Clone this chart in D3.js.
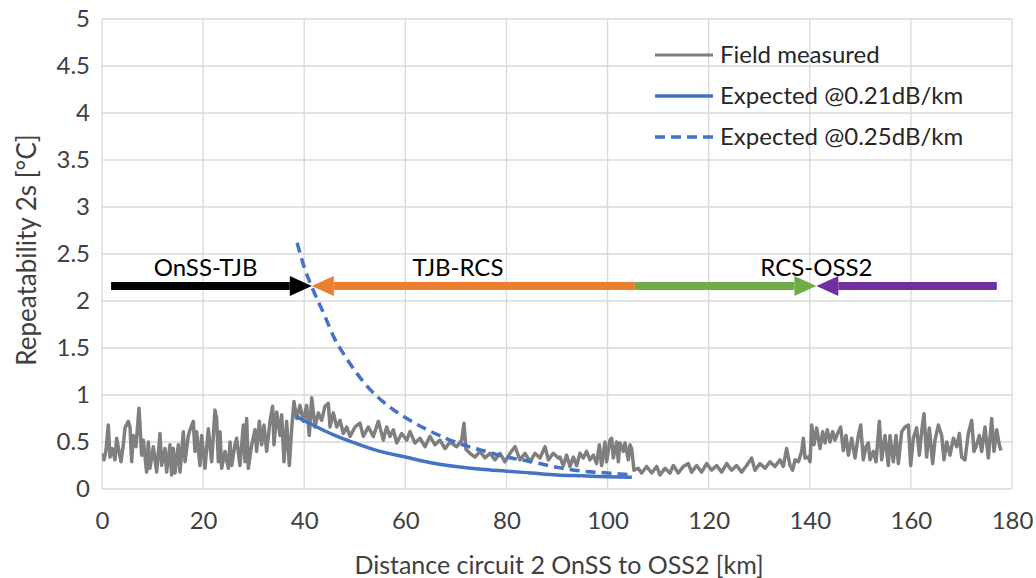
<!DOCTYPE html>
<html>
<head>
<meta charset="utf-8">
<script src="https://cdn.jsdelivr.net/npm/d3@7"></script>
<style>
  body { margin: 0; background: #fff; }
  text { font-family: Lato, "Open Sans", sans-serif; }
</style>
</head>
<body>
<svg id="chart" width="1036" height="578"></svg>
<script>
// axis ticks
const xTicks = [0, 20, 40, 60, 80, 100, 120, 140, 160, 180];
const yTicks = [0, 0.5, 1, 1.5, 2, 2.5, 3, 3.5, 4, 4.5, 5];

// field measured repeatability, [km, degC]
const field = [
  [0.3,0.38],[0.4,0.31],[0.79,0.41],[1.25,0.68],[1.58,0.34],[2.04,0.43],[2.57,0.31],[2.9,0.54],
  [3.36,0.40],[3.76,0.29],[4.22,0.47],[4.55,0.65],[5.2,0.72],[5.54,0.66],[5.87,0.29],[6.2,0.57],
  [6.72,0.45],[7.32,0.86],[7.84,0.36],[8.17,0.52],[8.83,0.18],[9.16,0.50],[9.49,0.22],[10.15,0.45],
  [10.81,0.18],[11.47,0.59],[11.8,0.25],[12.46,0.43],[12.79,0.18],[13.45,0.47],[13.78,0.15],[14.11,0.43],
  [14.44,0.17],[15.1,0.47],[15.43,0.18],[16.09,0.61],[16.42,0.29],[17.08,0.57],[17.41,0.63],[18.06,0.72],
  [18.39,0.40],[18.72,0.61],[19.38,0.25],[19.71,0.57],[20.37,0.22],[21.03,0.64],[21.69,0.29],[22.35,0.84],
  [22.68,0.75],[23.01,0.29],[23.34,0.61],[23.67,0.22],[24.33,0.40],[24.99,0.22],[25.32,0.50],[25.65,0.25],
  [26.3,0.47],[26.63,0.54],[27.29,0.25],[27.95,0.68],[28.28,0.29],[28.61,0.75],[28.94,0.22],[29.6,0.47],
  [30.26,0.63],[30.59,0.40],[31.12,0.72],[31.58,0.47],[32.04,0.68],[32.57,0.40],[33.23,0.72],[33.75,0.88],
  [34.02,0.47],[34.55,0.82],[35.21,0.57],[35.54,0.79],[36.0,0.29],[36.52,0.72],[37.05,0.25],[37.51,0.64],
  [37.97,0.93],[38.5,0.75],[39.16,0.89],[39.82,0.72],[40.48,0.89],[41.0,0.57],[41.48,0.97],[42.13,0.66],
  [42.79,0.81],[43.45,0.73],[44.11,0.88],[44.77,0.91],[45.1,0.66],[45.76,0.81],[46.42,0.66],[47.08,0.73],
  [47.74,0.59],[48.4,0.66],[49.06,0.56],[50.05,0.66],[51.03,0.70],[51.69,0.56],[52.68,0.66],[53.67,0.56],
  [54.66,0.72],[55.65,0.52],[56.31,0.66],[56.97,0.56],[57.63,0.63],[58.29,0.49],[59.28,0.59],[60.27,0.52],
  [60.92,0.61],[61.91,0.49],[62.9,0.54],[63.89,0.45],[64.88,0.56],[65.87,0.47],[66.86,0.52],[67.85,0.43],
  [68.84,0.50],[70.16,0.45],[71.14,0.52],[71.6,0.70],[72.0,0.42],[72.79,0.38],[73.78,0.34],[74.77,0.40],
  [75.76,0.33],[76.75,0.38],[77.74,0.31],[78.72,0.38],[79.71,0.29],[80.7,0.38],[81.69,0.45],[82.68,0.31],
  [83.67,0.38],[84.66,0.29],[85.65,0.38],[86.64,0.33],[87.63,0.45],[88.29,0.31],[89.27,0.38],[90.26,0.33],
  [90.59,0.34],[91.25,0.25],[91.91,0.36],[92.57,0.24],[93.23,0.34],[93.89,0.25],[94.55,0.38],[95.2,0.33],
  [95.86,0.40],[96.52,0.31],[97.18,0.36],[97.84,0.27],[98.37,0.47],[98.83,0.25],[99.49,0.50],[99.82,0.29],
  [100.48,0.52],[100.81,0.54],[101.14,0.33],[101.8,0.50],[102.13,0.29],[102.46,0.49],[103.12,0.40],[103.45,0.49],
  [104.11,0.31],[104.44,0.47],[104.76,0.43],[105.23,0.20],[106.08,0.22],[106.74,0.17],[107.73,0.24],[108.72,0.17],
  [109.71,0.24],[110.37,0.15],[111.36,0.22],[112.35,0.17],[113.01,0.25],[113.99,0.17],[114.98,0.24],[115.97,0.27],
  [116.63,0.18],[117.62,0.25],[118.61,0.18],[119.6,0.27],[120.59,0.20],[121.58,0.25],[122.57,0.18],[123.56,0.27],
  [124.54,0.20],[125.53,0.25],[126.52,0.18],[127.51,0.25],[128.5,0.33],[129.16,0.20],[130.15,0.27],[131.14,0.22],
  [132.13,0.29],[133.12,0.24],[134.1,0.31],[134.76,0.24],[135.42,0.43],[136.09,0.25],[136.62,0.20],[137.08,0.31],
  [137.74,0.29],[138.4,0.40],[138.73,0.54],[139.06,0.33],[139.72,0.34],[140.05,0.29],[140.38,0.68],[140.84,0.47],
  [141.36,0.65],[142.02,0.43],[142.55,0.61],[143.01,0.49],[143.47,0.63],[144.0,0.50],[144.53,0.61],[144.99,0.52],
  [145.65,0.61],[146.11,0.66],[146.64,0.41],[147.17,0.57],[147.63,0.36],[148.29,0.54],[148.95,0.33],[149.61,0.57],
  [150.07,0.68],[150.59,0.31],[151.12,0.45],[151.58,0.49],[151.91,0.31],[152.57,0.40],[153.1,0.29],[153.76,0.72],
  [154.22,0.31],[154.88,0.57],[155.54,0.25],[155.87,0.57],[156.53,0.29],[157.06,0.57],[157.52,0.27],[158.18,0.61],
  [158.84,0.66],[159.5,0.68],[159.96,0.25],[160.48,0.54],[161.14,0.65],[161.67,0.36],[162.13,0.61],[162.59,0.80],
  [163.12,0.34],[163.65,0.65],[164.31,0.27],[164.77,0.52],[165.43,0.68],[166.09,0.57],[166.55,0.31],[167.08,0.50],
  [167.74,0.36],[168.4,0.54],[169.06,0.45],[169.58,0.59],[170.04,0.34],[170.7,0.31],[171.36,0.59],[172.02,0.73],
  [172.48,0.40],[173.01,0.47],[173.54,0.57],[174.0,0.40],[174.66,0.66],[175.32,0.33],[175.98,0.75],[176.44,0.40],
  [176.97,0.63],[177.49,0.47],[177.82,0.41]
];

// expected repeatability, [km, degC]
const expected21 = [
  [38.4,0.77],[41,0.70],[44,0.62],[47,0.55],[50,0.49],[55,0.40],[60,0.34],[65,0.28],
  [70,0.24],[75,0.21],[80,0.19],[85,0.17],[90,0.15],[95,0.14],[100,0.13],[104.8,0.125]
];
const expected25 = [
  [38.6,2.62],[40,2.36],[41.5,2.15],[44,1.85],[46,1.60],[48,1.42],[50,1.26],[53,1.06],
  [56,0.91],[60,0.76],[64,0.64],[68,0.54],[72,0.46],[76,0.40],[80,0.34],[85,0.29],
  [90,0.23],[95,0.19],[100,0.17],[104.8,0.15]
];

// cable sections drawn as arrows: tail km, tip km
const arrowY = 2.16;
const arrows = [
  { from: 1.8,   to: 41.5,  color: '#000000' },
  { from: 105.4, to: 41.5,  color: '#ed7d31' },
  { from: 105.4, to: 141.3, color: '#70ad47' },
  { from: 177.0, to: 141.3, color: '#7030a0' }
];
const sections = [
  { label: 'OnSS-TJB', km: 20.5 },
  { label: 'TJB-RCS',  km: 70.4 },
  { label: 'RCS-OSS2', km: 141.3 }
];

const legendItems = [
  { label: 'Field measured',        color: '#7f7f7f', dash: null,   w: 3 },
  { label: 'Expected @0.21dB/km',   color: '#4472c4', dash: null,   w: 3.5 },
  { label: 'Expected @0.25dB/km',   color: '#4472c4', dash: '10,6', w: 3.5 }
];

const margin = { left: 102, top: 19, right: 24, bottom: 89 };
const width = 1036, height = 578;

const svg = d3.select('#chart');

const x = d3.scaleLinear().domain([0, 180]).range([margin.left, width - margin.right]);
const y = d3.scaleLinear().domain([0, 5]).range([height - margin.bottom, margin.top]);

// gridlines
svg.append('g')
  .selectAll('line.h')
  .data(yTicks)
  .join('line')
  .attr('x1', x(0)).attr('x2', x(180))
  .attr('y1', d => y(d)).attr('y2', d => y(d))
  .attr('stroke', '#d9d9d9').attr('stroke-width', 1.3);

svg.append('g')
  .selectAll('line.v')
  .data(xTicks)
  .join('line')
  .attr('x1', d => x(d)).attr('x2', d => x(d))
  .attr('y1', y(0)).attr('y2', y(5))
  .attr('stroke', '#d9d9d9').attr('stroke-width', 1.3);

// axes (labels only, Excel style)
const xAxis = svg.append('g')
  .attr('transform', `translate(0,${y(0) + 23})`)
  .call(d3.axisBottom(x).tickValues(xTicks).tickSize(0).tickPadding(0));
const yAxis = svg.append('g')
  .attr('transform', `translate(${x(0) - 12},0)`)
  .call(d3.axisLeft(y).tickValues(yTicks).tickSize(0).tickPadding(0).tickFormat(d3.format('')));
[xAxis, yAxis].forEach(a => {
  a.select('.domain').remove();
  a.selectAll('text').attr('font-size', 24).attr('fill', '#404040')
    .style('font-family', 'Lato, sans-serif');
});
xAxis.selectAll('text').attr('dy', '0.71em');

svg.append('text')
  .attr('x', (x(0) + x(180)) / 2 + 2).attr('y', 574)
  .attr('text-anchor', 'middle').attr('font-size', 25).attr('fill', '#404040')
  .text('Distance circuit 2 OnSS to OSS2 [km]');

svg.append('text')
  .attr('transform', `translate(36,${(y(0) + y(5)) / 2 - 4}) rotate(-90)`)
  .attr('text-anchor', 'middle').attr('font-size', 26).attr('fill', '#404040')
  .text('Repeatability 2s [°C]');

// series
const line = d3.line().x(d => x(d[0])).y(d => y(d[1]));
const smooth = d3.line().x(d => x(d[0])).y(d => y(d[1])).curve(d3.curveMonotoneX);

svg.append('path').datum(field)
  .attr('d', line).attr('fill', 'none')
  .attr('stroke', '#7f7f7f').attr('stroke-width', 3.5).attr('stroke-linejoin', 'round');

svg.append('path').datum(expected21)
  .attr('d', smooth).attr('fill', 'none')
  .attr('stroke', '#4472c4').attr('stroke-width', 3.5);

svg.append('path').datum(expected25)
  .attr('d', smooth).attr('fill', 'none')
  .attr('stroke', '#4472c4').attr('stroke-width', 3.5).attr('stroke-dasharray', '10,6');

// section arrows
const headLen = 22, headHalf = 10;
const ga = svg.append('g');
arrows.forEach(a => {
  const x0 = x(a.from), x1 = x(a.to), yy = y(arrowY);
  const dir = Math.sign(x1 - x0);
  ga.append('line')
    .attr('x1', x0).attr('x2', x1 - dir * headLen)
    .attr('y1', yy).attr('y2', yy)
    .attr('stroke', a.color).attr('stroke-width', 8);
  ga.append('path')
    .attr('d', `M${x1},${yy}L${x1 - dir * headLen},${yy - headHalf}L${x1 - dir * headLen},${yy + headHalf}Z`)
    .attr('fill', a.color);
});

svg.append('g')
  .selectAll('text')
  .data(sections)
  .join('text')
  .attr('x', d => x(d.km)).attr('y', y(arrowY) - 10)
  .attr('text-anchor', 'middle').attr('font-size', 24).attr('fill', '#000')
  .text(d => d.label);

// legend
const lg = svg.append('g').attr('transform', 'translate(655,55)');
legendItems.forEach((d, i) => {
  const row = lg.append('g').attr('transform', `translate(0,${i * 41})`);
  row.append('line')
    .attr('x1', 0).attr('x2', 58).attr('y1', 0).attr('y2', 0)
    .attr('stroke', d.color).attr('stroke-width', d.w)
    .attr('stroke-dasharray', d.dash);
  row.append('text')
    .attr('x', 65).attr('y', 0).attr('dy', '0.35em')
    .attr('font-size', 24).attr('fill', '#262626')
    .text(d.label);
});
</script>
</body>
</html>
